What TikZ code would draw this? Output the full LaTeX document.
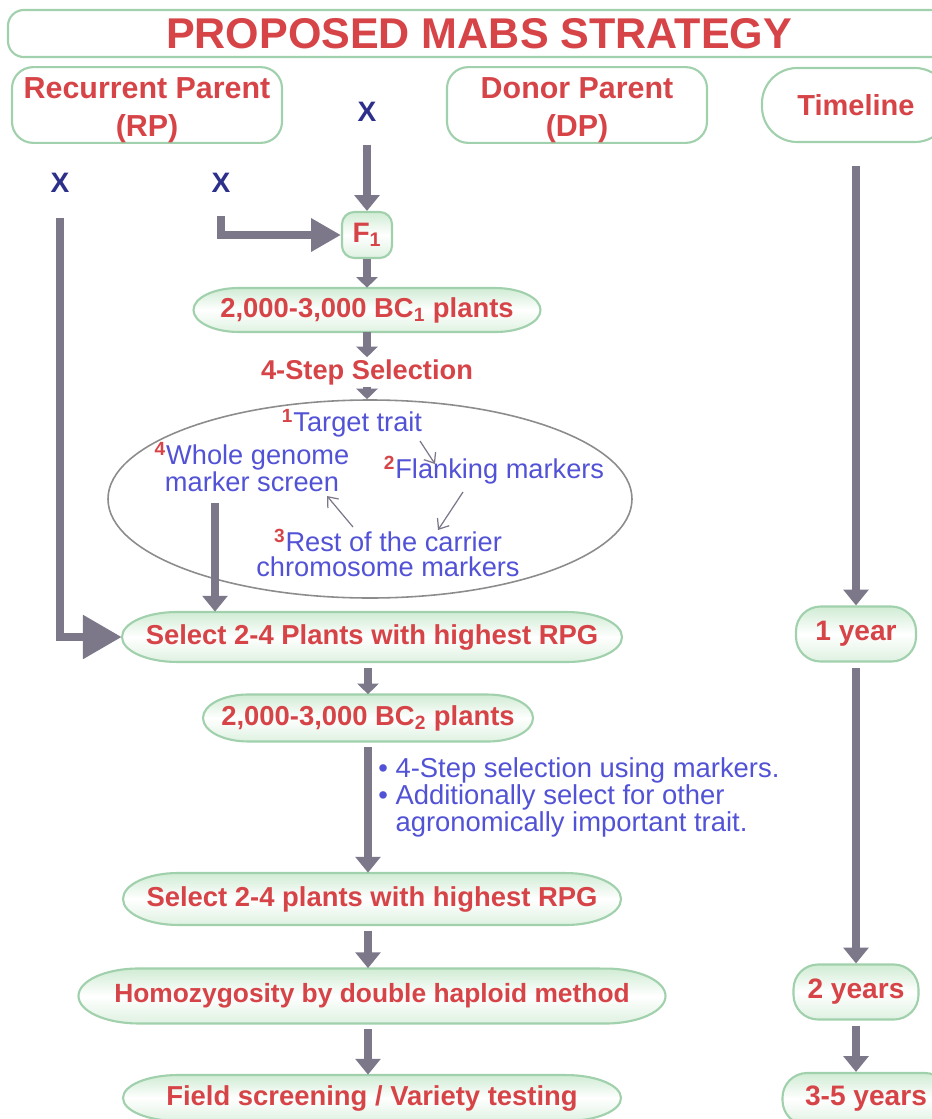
\documentclass[tikz,border=0pt]{standalone}
\usepackage{fontspec}
\setmainfont{Liberation Sans}
\usetikzlibrary{arrows.meta,calc,shapes.geometric}
\definecolor{tred}{RGB}{214,68,72}
\definecolor{xblue}{RGB}{44,48,138}
\definecolor{tblue}{RGB}{82,82,214}
\definecolor{agray}{RGB}{125,119,138}
\definecolor{bgreen}{RGB}{160,208,172}
\definecolor{fgreen}{RGB}{208,236,212}
\definecolor{egray}{RGB}{140,140,140}
\newcommand\redsup[1]{\textsuperscript{\textcolor{tred}{\bfseries #1}}}
% name, cx, cy, width, height, end radius (px), text
\newcommand\pill[7]{%
  \path[pillfill] (#2-#4/2+#6, #3+#5/2) -- (#2+#4/2-#6, #3+#5/2)
     arc[start angle=-90, end angle=90, x radius=#6*0.02cm, y radius=#5*0.01cm]
     -- (#2-#4/2+#6, #3-#5/2)
     arc[start angle=90, end angle=270, x radius=#6*0.02cm, y radius=#5*0.01cm] -- cycle;
  \node[pilltext, minimum width=#4*0.02cm, minimum height=#5*0.02cm] (#1) at (#2,#3) {#7};
}
\begin{document}
\begin{tikzpicture}[x=0.02cm,y=-0.02cm,
  pillfill/.style={draw=bgreen, line width=1.2pt, shade, top color=fgreen, bottom color=fgreen!70, middle color=white},
  pilltext/.style={inner sep=0pt, text=tred, font=\bfseries\fontsize{15.6}{18}\selectfont},
  hbox/.style={draw=bgreen, line width=1.2pt, fill=white, rounded corners=12pt, inner sep=0pt, align=center,
     text=tred, font=\bfseries\fontsize{17.3}{21.5}\selectfont},
  tbox/.style={draw=bgreen, line width=1.2pt, shade, top color=fgreen, bottom color=fgreen!70, middle color=white,
     rounded corners=14pt, inner sep=0pt, text=tred, font=\bfseries\fontsize{16}{19}\selectfont},
  xmark/.style={text=xblue, font=\bfseries\fontsize{16}{18}\selectfont, inner sep=1pt},
  etext/.style={text=tblue, font=\fontsize{15.5}{13}\selectfont, align=center, inner sep=0pt},
  arr/.style={draw=agray, line width=4pt, -{Triangle[width=14pt,length=9pt]}},
  arrs/.style={draw=agray, line width=4pt, -{Triangle[width=12pt,length=6pt]}},
  bigarr/.style={draw=agray, line width=4.5pt, -{Triangle[width=18pt,length=17pt]}},
  hugearr/.style={draw=agray, line width=4.5pt, -{Triangle[width=24pt,length=22pt]}},
  thinarr/.style={draw=agray, line width=0.7pt, -{Straight Barb[length=5pt,width=8pt]}}
]
\useasboundingbox (0,0) rectangle (932,1119);
\clip (0,0) rectangle (932,1119);
\fill[white] (0,0) rectangle (932,1119);

% title and headers
\node[hbox, rounded corners=9pt, minimum width=942*0.02cm, minimum height=47*0.02cm,
      font=\bfseries\fontsize{24.5}{26}\selectfont] (title) at (479,33.5) {PROPOSED MABS STRATEGY};
\node[hbox, minimum width=270*0.02cm, minimum height=74*0.02cm] (rp) at (147,105) {\rule{0pt}{18pt}Recurrent Parent\\(RP)};
\node[hbox, minimum width=260*0.02cm, minimum height=74*0.02cm] (dp) at (577,105) {\rule{0pt}{18pt}Donor Parent\\(DP)};
\node[hbox, rounded corners=20pt, minimum width=188*0.02cm, minimum height=74*0.02cm,
      font=\bfseries\fontsize{16.5}{19}\selectfont] (tl) at (856,105) {Timeline};

\node[xmark] (xtop) at (367,112) {X};
\node[xmark] (xl) at (60,183) {X};
\node[xmark] (xm) at (221,183) {X};

% F1
\node[tbox, rounded corners=7pt, minimum width=50*0.02cm, minimum height=46*0.02cm,
      font=\bfseries\fontsize{16}{18}\selectfont] (f1) at (367,235) {F\textsubscript{1}};

% pills
\pill{bc1}{367}{310}{347}{44}{45}{2,000-3,000 BC\textsubscript{1} plants}
\node[text=tred, font=\bfseries\fontsize{15.5}{17}\selectfont, inner sep=1pt] (step4) at (367,372) {4-Step Selection};

% selection ellipse
\node[draw=egray, line width=0.9pt, ellipse, minimum width=524*0.02cm, minimum height=198*0.02cm] (sel) at (370,499) {};
\node[etext] (t1) at (352,423) {\redsup{1}Target trait};
\node[etext] (t4) at (252,467) {\redsup{4}Whole genome\\marker screen};
\node[etext] (t2) at (494,470) {\redsup{2}Flanking markers};
\node[etext, font=\fontsize{15.5}{14}\selectfont] (t3) at (388,553) {\redsup{3}Rest of the carrier\\chromosome markers};

\pill{sel1}{372}{637}{500}{50}{55}{Select 2-4 Plants with highest RPG}
\pill{bc2}{368}{718}{330}{47}{45}{2,000-3,000 BC\textsubscript{2} plants}
\pill{sel2}{372}{899}{498}{52}{55}{Select 2-4 plants with highest RPG}
\pill{homo}{372}{996}{587}{55}{60}{\fontsize{15}{18}\selectfont Homozygosity by double haploid method}
\pill{field}{372}{1098}{498}{46}{55}{Field screening / Variety testing}

% timeline boxes
\node[tbox, minimum width=120*0.02cm, minimum height=55*0.02cm] (y1) at (856,634) {1 year};
\node[tbox, minimum width=125*0.02cm, minimum height=55*0.02cm] (y2) at (856,992) {2 years};
\node[tbox, minimum width=167*0.02cm, minimum height=52*0.02cm] (y3) at (866,1099) {3-5 years};

% bullets
\node[anchor=north west, text=tblue, align=left, inner sep=0pt,
      font=\fontsize{15.6}{15.4}\selectfont] (bul) at (378,757)
  {\textbullet\ 4-Step selection using markers.\\
   \textbullet\ Additionally select for other\\
   \phantom{\textbullet\ }agronomically important trait.};

% main connectors
\draw[arr] ([yshift=-12pt]xtop.south) -- (f1.north);
\draw[bigarr] ([yshift=-12pt]xm.south) |- (f1.west);
\draw[arrs] (f1.south) -- (f1.south |- bc1.north);
\draw[arrs] (bc1.south) -- (step4.north);
\draw[arrs] (step4.south) -- (step4.south |- sel.north);
\coordinate (a1s) at (420,441);
\coordinate (a1e) at (435,464);
\coordinate (a2s) at (463,492);
\coordinate (a2e) at (438,530);
\coordinate (a3s) at (353,527);
\coordinate (a3e) at (327,496);
\draw[thinarr] (a1s) -- (a1e);
\draw[thinarr] (a2s) -- (a2e);
\draw[thinarr] (a3s) -- (a3e);
\coordinate (c4) at (215,503);
\draw[arr] (c4) -- (c4 |- sel1.north);
\draw[hugearr] ([yshift=-13pt]xl.south) |- (sel1.west);
\draw[arrs] ([yshift=-3pt]sel1.south -| bc2.north) -- (bc2.north);
\draw[arr] ([yshift=-3pt]bc2.south) -- (bc2.south |- sel2.north);
\draw[arr] ([yshift=-3pt]sel2.south -| bc2.south) -- (bc2.south |- homo.north);
\draw[arr] ([yshift=-3pt]homo.south -| bc2.south) -- (bc2.south |- field.north);

% timeline connectors
\draw[arr] ([yshift=-13pt]tl.south) -- (y1.north);
\draw[arr] ([yshift=-3pt]y1.south) -- (y2.north);
\draw[arr] ([yshift=-3pt]y2.south) -- (y2.south |- y3.north);
\end{tikzpicture}
\end{document}
